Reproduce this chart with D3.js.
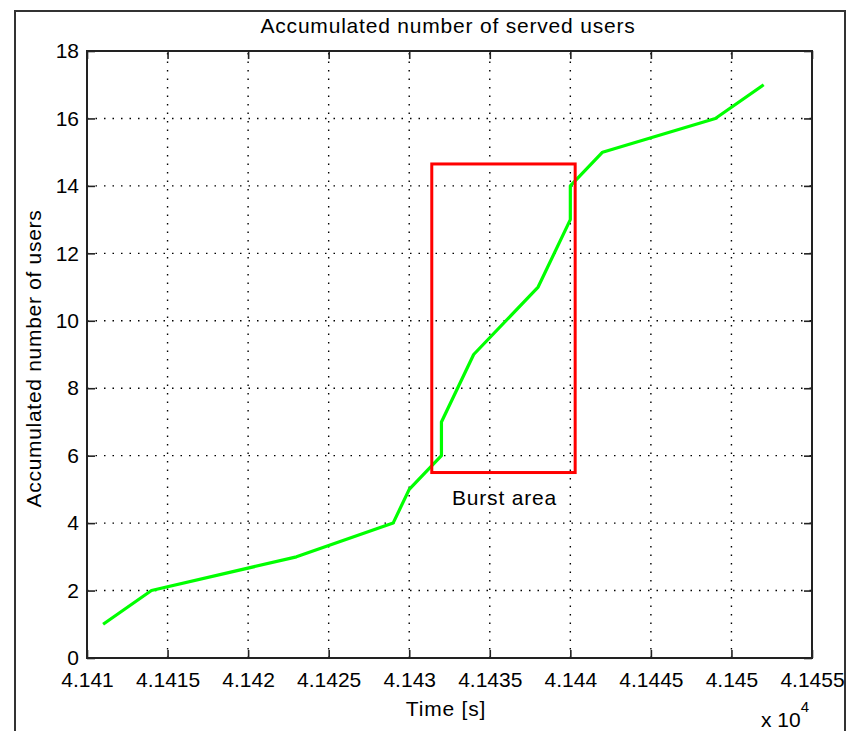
<!DOCTYPE html>
<html>
<head>
<meta charset="utf-8">
<script src="https://cdn.jsdelivr.net/npm/d3@7"></script>
<style>
  html, body { margin: 0; padding: 0; background: #fff; }
  svg { display: block; }
  text { font-family: "Liberation Sans", Arial, sans-serif; fill: #000; }
</style>
</head>
<body>
<div id="chart"></div>
<script>
(function () {
  "use strict";

  // time in units of 10^4 s
  var times = [4.1411, 4.1414, 4.1423, 4.1429, 4.1430, 4.1432, 4.1432, 4.1434, 4.1438, 4.1440, 4.1440, 4.1442, 4.1449, 4.1452];
  var users = [1, 2, 3, 4, 5, 6, 7, 9, 11, 13, 14, 15, 16, 17];

  var xTicks = [4.141, 4.1415, 4.142, 4.1425, 4.143, 4.1435, 4.144, 4.1445, 4.145, 4.1455];
  var xTickLabels = ["4.141", "4.1415", "4.142", "4.1425", "4.143", "4.1435", "4.144", "4.1445", "4.145", "4.1455"];
  var yTicks = [0, 2, 4, 6, 8, 10, 12, 14, 16, 18];

  var burstX = [4.14314, 4.14403];
  var burstY = [5.5, 14.65];

  var W = 846, H = 731;
  var left = 87, right = 812, top = 51, bottom = 658;

  var svg = d3.select("#chart").append("svg")
    .attr("width", W)
    .attr("height", H);

  // outer figure frame
  svg.append("rect")
    .attr("x", 15).attr("y", 11)
    .attr("width", 830).attr("height", 740)
    .attr("fill", "#fff")
    .attr("stroke", "#333")
    .attr("stroke-width", 2);

  var x = d3.scaleLinear().domain([4.141, 4.1455]).range([left, right]);
  var y = d3.scaleLinear().domain([0, 18]).range([bottom, top]);

  svg.append("rect")
    .attr("x", left).attr("y", top)
    .attr("width", right - left).attr("height", bottom - top)
    .attr("fill", "#fff");

  // dotted grid
  var grid = svg.append("g")
    .attr("stroke", "#000")
    .attr("stroke-width", 1.4)
    .attr("stroke-dasharray", "1.5,7");

  grid.selectAll("line.gx")
    .data(xTicks.slice(1, -1))
    .join("line")
    .attr("class", "gx")
    .attr("x1", function (d) { return x(d); })
    .attr("x2", function (d) { return x(d); })
    .attr("y1", bottom)
    .attr("y2", top);

  grid.selectAll("line.gy")
    .data(yTicks.slice(1, -1))
    .join("line")
    .attr("class", "gy")
    .attr("y1", function (d) { return y(d); })
    .attr("y2", function (d) { return y(d); })
    .attr("x1", left)
    .attr("x2", right);

  var fs = 21;
  var ls = "0.8px";

  // axes with inward ticks
  svg.append("g")
    .attr("transform", "translate(0," + bottom + ")")
    .call(d3.axisBottom(x).tickValues(xTicks)
      .tickFormat(function (d, i) { return xTickLabels[i]; })
      .tickSizeInner(-8).tickSizeOuter(0).tickPadding(14));

  svg.append("g")
    .attr("transform", "translate(" + left + ",0)")
    .call(d3.axisLeft(y).tickValues(yTicks)
      .tickSizeInner(-8).tickSizeOuter(0).tickPadding(8));

  svg.append("g")
    .attr("transform", "translate(0," + top + ")")
    .call(d3.axisTop(x).tickValues(xTicks).tickFormat("")
      .tickSizeInner(-8).tickSizeOuter(0));

  svg.append("g")
    .attr("transform", "translate(" + right + ",0)")
    .call(d3.axisRight(y).tickValues(yTicks).tickFormat("")
      .tickSizeInner(-8).tickSizeOuter(0));

  svg.selectAll(".domain").remove();
  svg.selectAll(".tick line").attr("stroke", "#222").attr("stroke-width", 1.6);
  svg.selectAll(".tick text")
    .attr("font-size", fs)
    .attr("font-family", "Liberation Sans, Arial, sans-serif")
    .attr("fill", "#000");

  // box
  svg.append("rect")
    .attr("x", left).attr("y", top)
    .attr("width", right - left).attr("height", bottom - top)
    .attr("fill", "none")
    .attr("stroke", "#222")
    .attr("stroke-width", 2);

  // data line
  var line = d3.line()
    .x(function (d, i) { return x(times[i]); })
    .y(function (d) { return y(d); });

  svg.append("path")
    .datum(users)
    .attr("d", line)
    .attr("fill", "none")
    .attr("stroke", "#00ff00")
    .attr("stroke-width", 3.2)
    .attr("stroke-linejoin", "round");

  // burst area box
  svg.append("rect")
    .attr("x", x(burstX[0]))
    .attr("y", y(burstY[1]))
    .attr("width", x(burstX[1]) - x(burstX[0]))
    .attr("height", y(burstY[0]) - y(burstY[1]))
    .attr("fill", "none")
    .attr("stroke", "#ff0000")
    .attr("stroke-width", 3);

  svg.append("text")
    .attr("x", (x(burstX[0]) + x(burstX[1])) / 2 + 1)
    .attr("y", 505)
    .attr("text-anchor", "middle")
    .attr("font-size", fs)
    .attr("letter-spacing", ls)
    .text("Burst area");

  // labels
  svg.append("text")
    .attr("x", 448)
    .attr("y", 33)
    .attr("text-anchor", "middle")
    .attr("font-size", fs)
    .attr("letter-spacing", ls)
    .text("Accumulated number of served users");

  svg.append("text")
    .attr("x", 446)
    .attr("y", 716)
    .attr("text-anchor", "middle")
    .attr("font-size", fs)
    .attr("letter-spacing", ls)
    .text("Time [s]");

  svg.append("text")
    .attr("transform", "translate(41," + ((top + bottom) / 2 + 4) + ") rotate(-90)")
    .attr("text-anchor", "middle")
    .attr("font-size", fs)
    .attr("letter-spacing", "0.7px")
    .text("Accumulated number of users");

  var exp = svg.append("text")
    .attr("x", 761)
    .attr("y", 727)
    .attr("font-size", fs);
  exp.append("tspan").text("x 10");
  exp.append("tspan")
    .attr("dy", -15)
    .attr("font-size", 15)
    .text("4");
})();
</script>
</body>
</html>
